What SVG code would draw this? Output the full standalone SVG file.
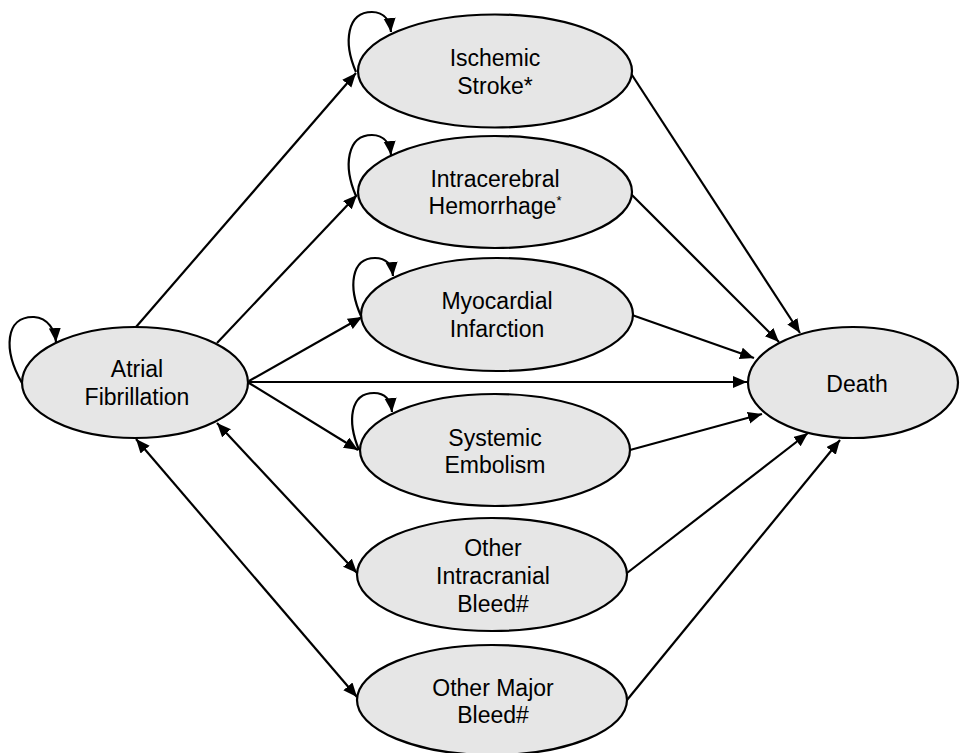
<svg xmlns="http://www.w3.org/2000/svg" width="961" height="753" viewBox="0 0 961 753">
<style>
.node ellipse{fill:#e6e6e6;stroke:#000;stroke-width:2.2}
.node text{font-family:"Liberation Sans",Arial,sans-serif;font-size:23px;fill:#000;text-anchor:middle}
.edges path,.edges line{fill:none;stroke:#000;stroke-width:2.2;marker-end:url(#ah)}
.edges .bi{marker-start:url(#ah)}
</style>
<defs>
<marker id="ah" markerUnits="userSpaceOnUse" markerWidth="16" markerHeight="14" refX="14" refY="6" orient="auto-start-reverse">
<path d="M0,0 L14,6 L0,12 z" fill="#000"/>
</marker>
</defs>
<rect width="961" height="753" fill="#fff"/>
<g class="edges">
<line x1="136" y1="327" x2="356" y2="73"/>
<line x1="217" y1="343" x2="357" y2="195"/>
<line x1="249" y1="381" x2="362" y2="317"/>
<line x1="249" y1="382" x2="747" y2="382"/>
<line x1="249" y1="383" x2="358" y2="450"/>
<line class="bi" x1="217" y1="423" x2="357" y2="573"/>
<line class="bi" x1="136" y1="439" x2="357" y2="697"/>
<line x1="630" y1="72" x2="800" y2="333"/>
<line x1="630" y1="193" x2="779" y2="342"/>
<line x1="632" y1="315" x2="754" y2="358"/>
<line x1="630" y1="450" x2="762" y2="414"/>
<line x1="627" y1="573" x2="808" y2="433"/>
<line x1="627" y1="700" x2="840" y2="440"/>
<path d="M22,383 C3,350 5,316 34,317 C48,318 55,330 56,342"/>
<path d="M356,72 C343,42 347,12 372,12 C385,12 390,22 391,32"/>
<path d="M356,196 C343,166 347,135 372,135 C385,135 390,145 391,155"/>
<path d="M361,316 C348,287 351,258 375,258 C388,258 392,266 393,276"/>
<path d="M359,450 C347,421 350,393 374,393 C387,393 391,402 392,412"/>
</g>
<g id="af" class="node"><ellipse cx="135" cy="382.5" rx="113" ry="55.5"/><text x="137" y="377">Atrial</text><text x="137" y="405">Fibrillation</text></g>
<g id="is" class="node"><ellipse cx="495" cy="71" rx="137" ry="56.5"/><text x="495" y="66">Ischemic</text><text x="495" y="94">Stroke*</text></g>
<g id="ich" class="node"><ellipse cx="495" cy="192" rx="137" ry="56"/><text x="495" y="187">Intracerebral</text><text x="495" y="214">Hemorrhage<tspan font-size="13" dy="-9">*</tspan></text></g>
<g id="mi" class="node"><ellipse cx="497" cy="314.5" rx="136" ry="56.5"/><text x="497" y="309">Myocardial</text><text x="497" y="337">Infarction</text></g>
<g id="se" class="node"><ellipse cx="495" cy="450" rx="135" ry="56"/><text x="495" y="446">Systemic</text><text x="495" y="473">Embolism</text></g>
<g id="oib" class="node"><ellipse cx="492" cy="574.5" rx="135" ry="56.5"/><text x="493" y="556">Other</text><text x="493" y="584">Intracranial</text><text x="493" y="612">Bleed#</text></g>
<g id="omb" class="node"><ellipse cx="492" cy="700" rx="135" ry="55"/><text x="493" y="696">Other Major</text><text x="493" y="723">Bleed#</text></g>
<g id="death" class="node"><ellipse cx="853" cy="382.5" rx="105" ry="55.5"/><text x="857" y="392">Death</text></g>
</svg>
